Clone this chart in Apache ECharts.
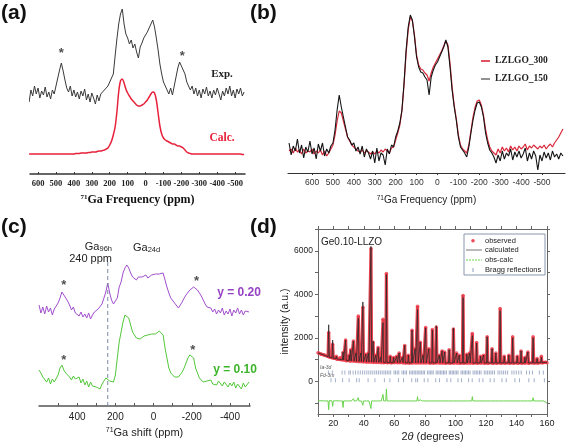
<!DOCTYPE html>
<html><head><meta charset="utf-8">
<script src="https://cdn.jsdelivr.net/npm/echarts@6/dist/echarts.min.js"></script>
<style>html,body{margin:0;padding:0;background:#fff}#c{width:567px;height:446px}</style>
</head><body><div id="c"></div>
<script>
// ---------- Panel (a): 71Ga NMR, ppm 650 -> -550, step 10 ----------
const expA = [
72,84,78,88,80,86,76,83,79,87,
77,82,75,84,80,88,96,104,111,103,
94,86,82,88,78,84,77,82,75,83,
78,85,74,80,72,81,76,70,79,73,
80,78,84,82,88,86,96,100,118,135,
150,160,165,150,140,136,130,134,126,130,
122,116,127,131,136,134,142,146,150,154,
147,136,124,110,100,92,88,84,80,86,
79,88,97,106,112,108,104,100,92,90,
84,88,80,86,78,84,76,85,80,87,
78,83,76,84,79,86,80,74,83,78,
86,80,88,78,84,76,85,80,86,78,
82];
const calcA = [
20,20,20,20,20,20,20,20,20,20,
20,20,20,20,20,20,20,20,20,20,
20,20,20,20,20,20,20.5,20.5,20.5,21,
21,21,21,21.5,21.5,22,22,22,22.5,23,
23,23.5,24,25,26,29,33,39,47,62,
82,93,95,91,85,81,78,75,73,71,
69,68,68,69,70,72,74,77,80,82,
81,74,61,48,40,36,34,33,32,31,
30,30,29,28,28,27,26,24,22,21,
20.5,20,20,20,20,20,20,20,20,20,
20,20,20,20,20,20,20,20,20,20,
20,20,20,20,20,20,20,20,20,19.5,
19.5];
const starsA = [[470,124],[-205,121]];
const labelsA = [600,500,400,300,200,100,0,-100,-200,-300,-400,-500];

// ---------- Panel (b): ppm 710 -> -600, step 10 ----------
const lz300 = [
22,24,20,25,21,23,19,24,20,22,
21,24,19,22,20,23,18,22,17,20,
24,28,38,52,62,60,52,44,36,32,
28,26,24,22,21,23,20,22,21,19,
21,19,22,20,23,21,24,22,20,25,
26,33,40,48,62,88,120,143,156,152,
138,118,108,104,103,100,98,92,100,106,
110,114,118,122,127,132,128,110,86,68,
54,38,28,24,22,20,28,42,56,66,
72,73,68,58,44,33,26,22,20,18,
24,20,26,22,25,21,27,23,26,22,
27,24,26,29,23,27,25,28,26,24,
27,25,28,24,27,29,26,30,33,36,
40,44];
const lz150 = [
30,18,27,22,34,20,28,15,26,21,
32,19,25,14,29,22,30,17,24,20,
27,30,43,63,78,66,56,46,36,33,
28,30,22,26,19,27,16,24,20,14,
22,10,25,12,20,18,8,24,19,28,
26,36,42,50,63,90,123,146,158,153,
136,116,106,101,100,96,93,78,96,103,
108,111,116,121,126,133,126,106,83,66,
53,36,26,23,20,16,26,40,53,63,
70,71,66,56,40,30,23,20,16,10,
18,12,22,14,20,17,24,13,21,16,
22,15,19,25,12,20,14,22,17,3,
18,12,21,15,20,13,22,16,19,14,
20,17];

// ---------- Panel (c): ppm 600 -> -500, step 10 ----------
const y020 = [
101,93,99,92,100,94,98,91,97,96,
103,108,114,112,108,105,101,96,99,93,
95,90,94,89,92,88,93,87,91,94,
92,97,95,102,108,114,123,113,106,102,
103,108,119,124,133,138,141,138,133,129,
128,126,129,127,129,128,131,128,129,131,
131,132,133,132,134,133,126,119,113,108,
106,103,101,98,99,104,108,111,113,116,
118,119,118,116,114,110,108,102,99,97,
98,94,97,92,96,93,98,91,95,92,
97,90,96,93,98,92,96,91,95,93,
94];
const y010 = [
36,33,29,31,24,28,22,27,24,26,
31,38,41,36,33,31,29,26,30,27,
26,29,23,27,21,25,19,24,20,22,
19,21,17,22,24,28,30,25,23,24,
31,48,64,74,84,91,93,88,81,74,
71,68,66,67,68,70,69,71,70,72,
73,72,74,75,74,71,58,48,38,33,
31,29,28,29,31,34,38,43,48,51,
53,48,38,33,28,26,24,22,25,23,
26,22,24,21,25,23,20,24,22,19,
23,20,24,18,22,21,17,23,19,20,
24];
const starsC = [[470,124],[-225,128],[470,49],[-205,59]];
const marker240 = [[240,0],[240,146]];
const labelsC = [400,200,0,-200,-400];
const ticksC = [500,400,300,200,100,0,-100,-200,-300,-400,-500];

// ---------- Panel (d): XRD Rietveld ----------
const tth = [
10.0,12.0,14.0, 16.6,17.0,17.4, 19.2,19.6,20.0, 21.6,22.0,22.4, 24.1,24.5,24.9,
26.0,26.4,26.8, 27.7,28.1,28.5, 30.1,30.5,30.9, 31.0,31.4,31.8, 32.8,33.2,33.6,
34.4,34.8,35.2, 36.0,36.4,36.8, 37.6,38.0,38.4, 39.0,39.4,39.8, 40.9,41.3,41.7,
42.6,43.0,43.4, 44.3,44.7,45.1, 45.7,46.1,46.5, 47.4,47.8,48.2, 49.0,49.4,49.8,
50.6,51.0,51.4, 52.2,52.6,53.0, 54.4,54.8,55.2, 56.9,57.3,57.7, 59.1,59.5,59.9,
61.2,61.6,62.0, 62.8,63.2,63.6, 64.9,65.3,65.7, 66.4,66.8,67.2, 68.8,69.2,69.6,
71.2,71.6,72.0, 73.2,73.6,74.0, 74.8,75.2,75.6, 76.6,77.0,77.4, 78.4,78.8,79.2,
80.1,80.5,80.9, 82.2,82.6,83.0, 84.5,84.9,85.3, 87.1,87.5,87.9, 89.1,89.5,89.9,
90.9,91.3,91.7, 92.6,93.0,93.4, 95.5,95.9,96.3, 98.3,98.7,99.1, 100.4,100.8,101.2,
102.1,102.5,102.9, 104.6,105.0,105.4, 107.1,107.5,107.9, 108.9,109.3,109.7, 110.7,111.1,111.5,
113.5,113.9,114.3, 116.1,116.5,116.9, 118.1,118.5,118.9, 120.4,120.8,121.2, 123.6,124.0,124.4,
126.1,126.5,126.9, 128.9,129.3,129.7, 131.6,132.0,132.4, 134.6,135.0,135.4, 137.1,137.5,137.9,
140.1,140.5,140.9, 142.6,143.0,143.4, 145.1,145.5,145.9, 147.1,147.5,147.9, 150.5,150.9,151.3,
153.1,153.5,153.9, 155.9,156.3,156.7, 158.0,159.0,160.0];
const calcD = [
1300,1260,1200, 1130,2600,1110, 1080,1900,1060, 1040,1150,1030, 1010,1100,1000,
990,1350,980, 970,1900,960, 950,1200,950, 945,1450,940, 940,1850,930,
930,1300,920, 920,2900,910, 910,1300,910, 900,3650,900, 900,1250,890,
890,1300,890, 890,6200,890, 890,1850,880, 880,1200,880, 880,1550,875,
875,1100,870, 870,2700,870, 870,4900,870, 860,1150,860, 860,1100,860,
860,1150,860, 860,1300,860, 855,1100,855, 855,1650,855, 850,1200,850,
850,2350,850, 850,1500,850, 850,3300,850, 850,1800,850, 850,1200,850,
850,2450,850, 850,1500,850, 850,2350,850, 850,2550,850, 845,1200,845,
845,1400,845, 845,1350,845, 845,1450,845, 845,2450,845, 845,1300,845,
845,1200,845, 845,3850,845, 845,1250,845, 845,1300,845, 845,2100,845,
845,1750,845, 845,1150,845, 845,1200,845, 845,2050,845, 845,1500,845,
845,1300,845, 845,3250,845, 845,1150,845, 845,1200,845, 845,2000,845,
845,1150,845, 845,1400,845, 845,1100,845, 845,1350,845, 850,2000,850,
850,1050,850, 860,1100,860, 860,870,860];
const obsD = [
1310,1250,1210, 1140,2250,1120, 1090,1700,1070, 1050,1150,1020, 1020,1100,990,
1000,1320,970, 980,1900,950, 960,1200,940, 950,1450,930, 950,1850,920,
940,1300,910, 930,3000,900, 920,1300,900, 910,3400,890, 910,1250,880,
900,1300,880, 900,6100,880, 900,1800,870, 890,1200,870, 890,1550,865,
885,1100,860, 880,2850,860, 880,4950,860, 870,1150,850, 870,1100,850,
870,1150,850, 870,1300,850, 865,1100,845, 865,1650,845, 860,1200,840,
860,2350,840, 860,1500,840, 860,3450,840, 860,1800,840, 860,1200,840,
860,2480,840, 860,1500,840, 860,2380,840, 860,2500,840, 855,1200,835,
855,1400,835, 855,1350,835, 855,1450,835, 855,2400,835, 855,1300,835,
855,1200,835, 855,3950,835, 855,1250,835, 855,1300,835, 855,2200,835,
855,1780,835, 855,1150,835, 855,1200,835, 855,2050,835, 855,1500,835,
855,1300,835, 855,3350,835, 855,1150,835, 855,1200,835, 855,2050,835,
855,1150,835, 855,1400,835, 855,1100,835, 855,1350,835, 860,2050,840,
860,1050,840, 870,1150,850, 870,880,860];
const diffD = [
-900,-890,-900, -900,-1300,-880, -900,-1150,-900, -890,-900,-910, -900,-880,-900,
-900,-1200,-900, -890,-850,-900, -900,-880,-900, -900,-920,-900, -900,-800,-900,
-900,-880,-900, -900,-750,-900, -900,-900,-900, -900,-1100,-900, -900,-890,-900,
-900,-920,-900, -900,-1250,-900, -900,-950,-900, -900,-880,-900, -900,-900,-900,
-900,-880,-900, -900,-600,-900, -900,-350,-900, -900,-880,-900, -900,-910,-900,
-900,-880,-900, -900,-880,-900, -900,-910,-900, -900,-850,-900, -900,-880,-900,
-900,-850,-900, -900,-900,-900, -900,-700,-900, -900,-850,-900, -900,-910,-900,
-900,-820,-900, -900,-890,-900, -900,-850,-900, -900,-950,-900, -900,-880,-900,
-900,-870,-900, -900,-910,-900, -900,-880,-900, -900,-950,-900, -900,-890,-900,
-900,-910,-900, -900,-850,-900, -900,-890,-900, -900,-910,-900, -900,-700,-900,
-900,-880,-900, -900,-910,-900, -900,-890,-900, -900,-850,-900, -900,-880,-900,
-900,-910,-900, -900,-820,-900, -900,-890,-900, -900,-910,-900, -900,-850,-900,
-900,-890,-900, -900,-880,-900, -900,-910,-900, -900,-890,-900, -900,-750,-900,
-900,-910,-900, -900,-880,-900, -900,-920,-1000];
const braggIa3d = [16.8,19.4,25.8,27.6,30.2,31.2,33.0,34.6,36.2,37.7,39.2,40.6,42.0,43.3,44.6,45.9,47.2,48.4,49.6,50.8,52.0,53.2,54.3,55.4,56.5,57.6,59.8,60.8,61.9,62.9,65.0,66.0,67.0,68.0,70.0,71.0,72.0,73.0,74.0,75.0,76.0,76.9,77.9,78.9,79.8,81.7,82.7,83.6,84.6,85.5,87.4,88.4,89.3,90.3,91.2,92.2,93.1,94.1,96.0,96.9,97.9,98.8,99.8,100.8,101.7,103.7,104.7,105.7,106.6,107.6,108.6,109.6,111.6,112.7,113.7,114.7,115.8,116.8,118.9,120.0,121.1,122.2,123.3,124.4,125.6,127.9,129.1,130.4,131.6,132.9,134.2,137.0,138.4,139.9,141.5,143.1,146.6,148.5,150.5,155.0,157.6];
const braggFd3m = [18.5,21.4,26.1,30.4,35.3,37.0,42.8,47.3,53.5,57.1,62.7,66.0,71.4,74.0,75.2,79.6,82.0,87.1,89.6,94.5,97.0,101.7,104.0,108.6,111.0,115.6,118.0,122.8,125.4,130.5,133.3,139.0,142.0,148.1,151.6,158.3];
const braggRowIa3d = 410, braggRowFd3m = 50;
const labelsDx = [20,40,60,80,100,120,140,160];
const ticksDx = [10,20,30,40,50,60,70,80,90,100,110,120,130,140,150,160];
const labelsDy = [0,2000,4000,6000];
const ticksDy = [-1000,0,1000,2000,3000,4000,5000,6000,7000];

// ---------- helpers ----------
function seq(start, step, n){const a=[];for(let i=0;i<n;i++)a.push(+(start+step*i).toFixed(3));return a;}
function zip(xs, ys){return xs.map((x,i)=>[x, ys[i]]);}
const ppmA = seq(650,-10,expA.length);
const ppmB = seq(710,-10,lz300.length);
const ppmC = seq(600,-10,y020.length);

const SANS = 'Liberation Sans, Arial, sans-serif';
const SERIF = 'Liberation Serif, Times New Roman, serif';
const plain = v => String(v);

const chart = echarts.init(document.getElementById('c'), null, {renderer:'canvas'});

function starSeries(data, xi, yi){
  return {type:'scatter', xAxisIndex:xi, yAxisIndex:yi, data:data, symbolSize:1, silent:true,
    itemStyle:{color:'rgba(0,0,0,0)'},
    label:{show:true, formatter:'*', position:'inside', fontSize:13, fontWeight:'bold', color:'#222', fontFamily:SANS, offset:[0,3]}};
}

const option = {
  animation:false,
  backgroundColor:'#fff',
  grid:[
    {left:30, top:0, width:215, height:174},
    {left:288, top:0, width:277, height:173},
    {left:39, top:256, width:211, height:150},
    {left:318, top:229, width:229, height:185}
  ],
  xAxis:[
    {gridIndex:0, type:'value', inverse:true, min:-555, max:645,
     axisLine:{lineStyle:{color:'#333', width:1.5}},
     axisTick:{inside:true, length:2, customValues:labelsA, lineStyle:{color:'#333'}},
     axisLabel:{customValues:labelsA, formatter:plain, fontFamily:SERIF, fontWeight:'bold', fontSize:8.5, color:'#222', margin:5},
     splitLine:{show:false},
     name:'{s|71}Ga Frequency (ppm)', nameLocation:'middle', nameGap:20,
     nameTextStyle:{fontFamily:SERIF, fontWeight:'bold', fontSize:12, color:'#111',
       rich:{s:{fontFamily:SERIF, fontWeight:'bold', fontSize:7, color:'#111', verticalAlign:'top'}}}},
    {gridIndex:1, type:'value', inverse:true, min:-610, max:715,
     axisLine:{lineStyle:{color:'#333', width:1.2}},
     axisTick:{length:2, customValues:labelsA, lineStyle:{color:'#333'}},
     axisLabel:{customValues:labelsA, formatter:plain, fontFamily:SANS, fontSize:8.5, color:'#333', margin:5},
     splitLine:{show:false},
     name:'{s|71}Ga Frequency (ppm)', nameLocation:'middle', nameGap:22,
     nameTextStyle:{fontFamily:SANS, fontSize:10, color:'#222',
       rich:{s:{fontFamily:SANS, fontSize:6.5, color:'#222', verticalAlign:'top'}}}},
    {gridIndex:2, type:'value', inverse:true, min:-505, max:600,
     axisLine:{lineStyle:{color:'#555', width:1.5}},
     axisTick:{inside:true, length:3, customValues:ticksC, lineStyle:{color:'#555'}},
     axisLabel:{customValues:labelsC, formatter:plain, fontFamily:SANS, fontSize:10, color:'#222', margin:6},
     splitLine:{show:false},
     name:'{s|71}Ga shift (ppm)', nameLocation:'middle', nameGap:21,
     nameTextStyle:{fontFamily:SANS, fontSize:11, color:'#222',
       rich:{s:{fontFamily:SANS, fontSize:7, color:'#222', verticalAlign:'top'}}}},
    {gridIndex:3, type:'value', min:10, max:160,
     axisLine:{onZero:false, lineStyle:{color:'#666', width:1}},
     axisTick:{length:3, customValues:ticksDx, lineStyle:{color:'#666'}},
     axisLabel:{customValues:labelsDx, formatter:plain, fontFamily:SANS, fontSize:9, color:'#222', margin:5},
     splitLine:{show:false},
     name:'2{i|θ} (degrees)', nameLocation:'middle', nameGap:17,
     nameTextStyle:{fontFamily:SANS, fontSize:11, color:'#222',
       rich:{i:{fontFamily:SANS, fontSize:11, fontStyle:'italic', color:'#222'}}}},
    {gridIndex:3, type:'value', position:'top', min:10, max:160,
     axisLine:{onZero:false, lineStyle:{color:'#666', width:1}},
     axisTick:{length:3, customValues:ticksDx, lineStyle:{color:'#666'}},
     axisLabel:{show:false}, splitLine:{show:false}}
  ],
  yAxis:[
    {gridIndex:0, type:'value', min:0, max:174, show:false},
    {gridIndex:1, type:'value', min:0, max:173, show:false},
    {gridIndex:2, type:'value', min:0, max:150, show:false},
    {gridIndex:3, type:'value', min:-1500, max:7000,
     axisLine:{show:true, onZero:false, lineStyle:{color:'#666', width:1}},
     axisTick:{show:true, length:3, customValues:ticksDy, lineStyle:{color:'#666'}},
     axisLabel:{customValues:labelsDy, formatter:plain, fontFamily:SANS, fontSize:8.5, color:'#222', margin:5},
     splitLine:{show:false},
     name:'intensity (a.u.)', nameLocation:'middle', nameGap:19,
     nameTextStyle:{fontFamily:SANS, fontSize:10.5, color:'#222'}},
    {gridIndex:3, type:'value', position:'right', min:-1500, max:7000,
     axisLine:{show:true, onZero:false, lineStyle:{color:'#666', width:1}},
     axisTick:{show:true, length:3, customValues:ticksDy, lineStyle:{color:'#666'}},
     axisLabel:{show:false}, splitLine:{show:false}}
  ],
  legend:[{
    data:['LZLGO_300','LZLGO_150'], left:476, top:51, orient:'vertical',
    icon:'rect', itemWidth:9, itemHeight:1.6, itemGap:8, selectedMode:false,
    textStyle:{fontFamily:SERIF, fontWeight:'bold', fontSize:9.5, color:'#222'}
  }],
  series:[
    // (a)
    {name:'Exp.', type:'line', xAxisIndex:0, yAxisIndex:0, data:zip(ppmA, expA), symbol:'none',
     lineStyle:{color:'#3a3a3a', width:1}},
    {name:'Calc.', type:'line', xAxisIndex:0, yAxisIndex:0, data:zip(ppmA, calcA), symbol:'none', smooth:0.3,
     lineStyle:{color:'#e8213a', width:1.5}},
    starSeries(starsA, 0, 0),
    // (b)
    {name:'LZLGO_300', type:'line', xAxisIndex:1, yAxisIndex:1, data:zip(ppmB, lz300), symbol:'none',
     lineStyle:{color:'#d8283a', width:1.2}, itemStyle:{color:'#d8283a'}},
    {name:'LZLGO_150', type:'line', xAxisIndex:1, yAxisIndex:1, data:zip(ppmB, lz150), symbol:'none',
     lineStyle:{color:'#151515', width:1.1}, itemStyle:{color:'#777'}},
    // (c)
    {name:'y = 0.20', type:'line', xAxisIndex:2, yAxisIndex:2, data:zip(ppmC, y020), symbol:'none',
     lineStyle:{color:'#a24fcc', width:1}},
    {name:'y = 0.10', type:'line', xAxisIndex:2, yAxisIndex:2, data:zip(ppmC, y010), symbol:'none',
     lineStyle:{color:'#52c83a', width:1}},
    {name:'Ga96h marker', type:'line', xAxisIndex:2, yAxisIndex:2, data:marker240, symbol:'none',
     lineStyle:{color:'#7a8aa6', width:1, type:[4,3]}},
    starSeries(starsC, 2, 2),
    // (d)
    {name:'obsBand', type:'line', xAxisIndex:3, yAxisIndex:3, data:zip(tth, obsD), symbol:'none',
     lineStyle:{color:'#e8303e', width:3.2, opacity:0.9}},
    {name:'observed', type:'scatter', xAxisIndex:3, yAxisIndex:3, data:zip(tth, obsD), symbolSize:3.5,
     itemStyle:{color:'#ef4a5a', opacity:0.9}},
    {name:'calculated', type:'line', xAxisIndex:3, yAxisIndex:3, data:zip(tth, calcD), symbol:'none',
     lineStyle:{color:'#2a2a2a', width:0.8}},
    {name:'obs-calc', type:'line', xAxisIndex:3, yAxisIndex:3, data:zip(tth, diffD), symbol:'none',
     lineStyle:{color:'#6ad44c', width:1}},
    {name:'Bragg Ia-3d', type:'scatter', xAxisIndex:3, yAxisIndex:3,
     data:braggIa3d.map(x=>[x, braggRowIa3d]), symbol:'rect', symbolSize:[1,4],
     itemStyle:{color:'#8d9bbd'}},
    {name:'Bragg Fd-3m', type:'scatter', xAxisIndex:3, yAxisIndex:3,
     data:braggFd3m.map(x=>[x, braggRowFd3m]), symbol:'rect', symbolSize:[1,4],
     itemStyle:{color:'#8d9bbd'}}
  ],
  graphic:{elements:[
    {type:'text', x:1, y:3, style:{text:'(a)', fontFamily:SANS, fontWeight:'bold', fontSize:21, fill:'#111', align:'left', verticalAlign:'top'}},
    {type:'text', x:250, y:3, style:{text:'(b)', fontFamily:SANS, fontWeight:'bold', fontSize:21, fill:'#111', align:'left', verticalAlign:'top'}},
    {type:'text', x:1, y:217, style:{text:'(c)', fontFamily:SANS, fontWeight:'bold', fontSize:21, fill:'#111', align:'left', verticalAlign:'top'}},
    {type:'text', x:250, y:217, style:{text:'(d)', fontFamily:SANS, fontWeight:'bold', fontSize:21, fill:'#111', align:'left', verticalAlign:'top'}},
    {type:'text', x:222, y:74, style:{text:'Exp.', fontFamily:SERIF, fontWeight:'bold', fontSize:11, fill:'#222', align:'center', verticalAlign:'middle'}},
    {type:'text', x:222, y:138, style:{text:'Calc.', fontFamily:SERIF, fontWeight:'bold', fontSize:11.5, fill:'#e8213a', align:'center', verticalAlign:'middle'}},
    {type:'text', x:112, y:247, style:{text:'Ga{s|96h}', fontFamily:SANS, fontSize:11, fill:'#222', align:'right', verticalAlign:'middle',
      rich:{s:{fontFamily:SANS, fontSize:7.5, fill:'#222', verticalAlign:'bottom'}}}},
    {type:'text', x:112, y:258.5, style:{text:'240 ppm', fontFamily:SANS, fontSize:11, fill:'#222', align:'right', verticalAlign:'middle'}},
    {type:'text', x:133, y:248, style:{text:'Ga{s|24d}', fontFamily:SANS, fontSize:11, fill:'#222', align:'left', verticalAlign:'middle',
      rich:{s:{fontFamily:SANS, fontSize:7.5, fill:'#222', verticalAlign:'bottom'}}}},
    {type:'text', x:239, y:293, style:{text:'y = 0.20', fontFamily:SANS, fontWeight:'bold', fontSize:12, fill:'#9543c4', align:'center', verticalAlign:'middle'}},
    {type:'text', x:235, y:370, style:{text:'y = 0.10', fontFamily:SANS, fontWeight:'bold', fontSize:12, fill:'#3db52a', align:'center', verticalAlign:'middle'}},
    {type:'text', x:321, y:242.5, style:{text:'Ge0.10-LLZO', fontFamily:SANS, fontSize:10, fill:'#222', align:'left', verticalAlign:'middle'}},
    {type:'text', x:320, y:368, style:{text:'Ia-3d', fontFamily:SANS, fontStyle:'italic', fontSize:5, fill:'#555', align:'left', verticalAlign:'middle'}},
    {type:'text', x:320, y:376, style:{text:'Fd-3m', fontFamily:SANS, fontStyle:'italic', fontSize:5, fill:'#555', align:'left', verticalAlign:'middle'}},
    // legend of (d)
    {type:'rect', shape:{x:464, y:234, width:81, height:41}, style:{fill:'#fff', stroke:'#8b97ad', lineWidth:1}, z:50},
    {type:'circle', shape:{cx:473, cy:240.7, r:1.8}, style:{fill:'#ef4a5a'}, z:51},
    {type:'line', shape:{x1:466, y1:250, x2:482, y2:250}, style:{stroke:'#777', lineWidth:1}, z:51},
    {type:'line', shape:{x1:466, y1:260, x2:482, y2:260}, style:{stroke:'#6ad44c', lineWidth:1, lineDash:[2,1]}, z:51},
    {type:'rect', shape:{x:472.5, y:268, width:1, height:4}, style:{fill:'#8d9bbd'}, z:51},
    {type:'text', x:485, y:240.7, z:51, style:{text:'observed', fontFamily:SANS, fontSize:7.5, fill:'#222', align:'left', verticalAlign:'middle'}},
    {type:'text', x:485, y:250, z:51, style:{text:'calculated', fontFamily:SANS, fontSize:7.5, fill:'#222', align:'left', verticalAlign:'middle'}},
    {type:'text', x:485, y:260, z:51, style:{text:'obs-calc', fontFamily:SANS, fontSize:7.5, fill:'#222', align:'left', verticalAlign:'middle'}},
    {type:'text', x:485, y:270, z:51, style:{text:'Bragg reflections', fontFamily:SANS, fontSize:7.5, fill:'#222', align:'left', verticalAlign:'middle'}}
  ]}
};
chart.setOption(option);
</script>
</body></html>
